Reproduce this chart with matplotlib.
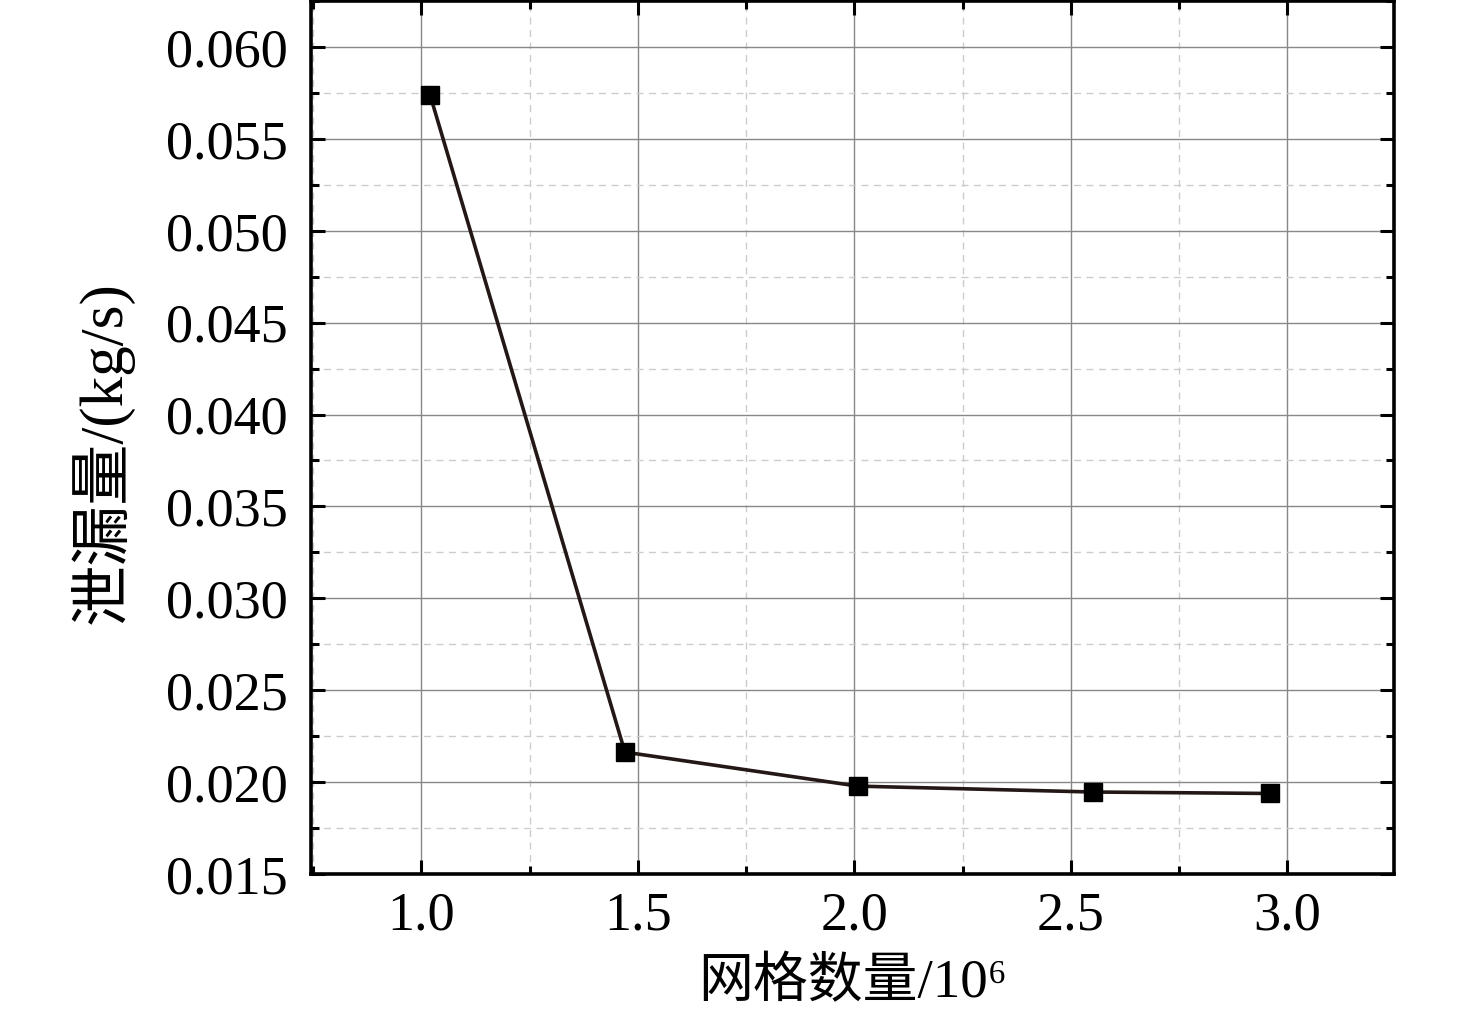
import matplotlib
matplotlib.use("Agg")
import matplotlib.pyplot as plt
from matplotlib.ticker import MultipleLocator

# 网格无关性验证数据
grid_count = [1.02, 1.47, 2.008, 2.551, 2.960]   # 网格数量 /10^6
leakage = [0.05739, 0.02163, 0.01978, 0.01946, 0.01938]  # 泄漏量 kg/s

x_ticks = [1.0, 1.5, 2.0, 2.5, 3.0]
y_ticks = [0.015, 0.020, 0.025, 0.030, 0.035, 0.040, 0.045, 0.050, 0.055, 0.060]

plt.rcParams['font.family'] = ['Liberation Serif', 'Noto Sans CJK SC', 'DejaVu Serif']
plt.rcParams['axes.unicode_minus'] = False

fig = plt.figure(figsize=(14.76, 10.27), dpi=100)
ax = fig.add_axes([0.2107, 0.149, 0.7337, 0.850])

ax.plot(grid_count, leakage, color='#231815', linewidth=2.6,
        marker='s', markersize=12.5, markerfacecolor='black',
        markeredgecolor='black', zorder=3)

ax.set_xlim(0.745, 3.246)
ax.set_ylim(0.015, 0.0625)
ax.set_xticks(x_ticks)
ax.set_yticks(y_ticks)
ax.set_xticklabels(['%.1f' % v for v in x_ticks])
ax.set_yticklabels(['%.3f' % v for v in y_ticks])
ax.xaxis.set_minor_locator(MultipleLocator(0.25))
ax.yaxis.set_minor_locator(MultipleLocator(0.0025))

ax.grid(which='major', color='#888888', linewidth=1.0, linestyle='-')
ax.grid(which='minor', color='#cccccc', linewidth=1.0, linestyle=(0, (5, 4)))
ax.set_axisbelow(True)

ax.tick_params(which='both', direction='in', top=True, right=True, width=2.2,
               labelsize=39)
ax.tick_params(axis='y', pad=17)
ax.tick_params(axis='x', pad=12)
ax.tick_params(which='major', length=10)
ax.tick_params(which='minor', length=6)
for s in ax.spines.values():
    s.set_linewidth(2.6)

ax.set_xlabel('网格数量/10⁶', fontsize=39.5, labelpad=12)
ax.set_ylabel('泄漏量/(kg/s)', fontsize=44)
ax.yaxis.set_label_coords(-0.164, 0.483)

fig.savefig('out.png', dpi=100)
